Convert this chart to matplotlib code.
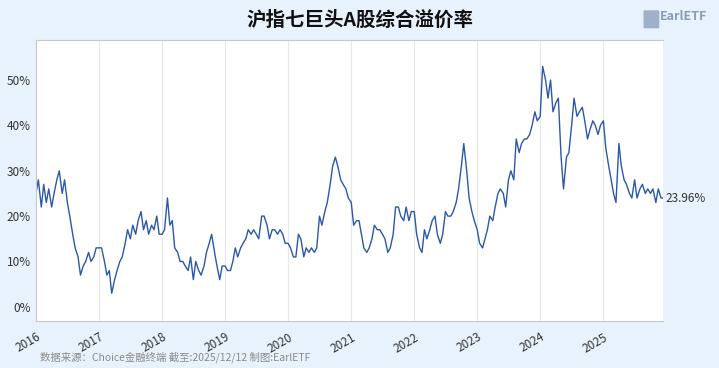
import pandas as pd
import matplotlib.pyplot as plt
import matplotlib.dates as mdates
from matplotlib.patches import FancyBboxPatch

plt.rcParams['font.family'] = ['Noto Sans CJK SC', 'DejaVu Sans']

# semi-monthly readings (%), one list per year
y2016 = [25, 28, 22, 27, 23, 26, 22, 25, 28, 30, 25, 28, 23, 20, 16, 13, 11, 7, 9, 10, 12, 10, 11, 13]
y2017 = [13, 13, 10, 7, 8, 3, 6, 8, 10, 11, 14, 17, 15, 18, 16, 19, 21, 17, 19, 16, 18, 17, 20, 16]
y2018 = [16, 17, 24, 18, 19, 13, 12, 10, 10, 9, 8, 11, 6, 10, 8, 7, 9, 12, 14, 16, 12, 9, 6, 9]
y2019 = [9, 8, 8, 10, 13, 11, 13, 14, 15, 17, 16, 17, 16, 15, 20, 20, 18, 15, 17, 17, 16, 17, 16, 14]
y2020 = [14, 13, 11, 11, 16, 15, 11, 13, 12, 13, 12, 13, 20, 18, 21, 23, 27, 31, 33, 31, 28, 27, 26, 24]
y2021 = [23, 18, 19, 19, 16, 13, 12, 13, 15, 18, 17, 17, 16, 15, 12, 13, 16, 22, 22, 20, 19, 22, 19, 21]
y2022 = [21, 16, 13, 12, 17, 15, 17, 19, 20, 16, 14, 16, 21, 20, 20, 21, 23, 26, 31, 36, 30, 24, 21, 19]
y2023 = [17, 14, 13, 15, 17, 20, 19, 22, 25, 26, 25, 22, 28, 30, 28, 37, 34, 36, 37, 37, 38, 40, 43, 41]
y2024 = [42, 53, 50, 46, 50, 43, 45, 46, 33, 26, 33, 34, 40, 46, 42, 43, 44, 41, 37, 39, 41, 40, 38, 40]
y2025 = [41, 35, 31, 28, 25, 23, 36, 31, 28, 27, 25, 24, 28, 24, 26, 27, 25, 26, 25, 26, 23, 26, 24]
last_date = '2025-12-12'
last_value = 23.96

values = y2016 + y2017 + y2018 + y2019 + y2020 + y2021 + y2022 + y2023 + y2024 + y2025
dates = list(pd.date_range('2016-01-01', periods=len(values), freq='SMS'))
dates.append(pd.Timestamp(last_date))
values.append(last_value)

bg = '#e8f2fc'
fig = plt.figure(figsize=(7.19, 3.68), dpi=100, facecolor=bg)
ax = fig.add_axes([0.050, 0.128, 0.872, 0.763])
ax.plot(dates, values, color='#2b58a8', linewidth=1.0)

ax.set_xlim(pd.Timestamp('2016-01-01'), pd.Timestamp(last_date))
ax.set_ylim(-3.1, 58.8)
ax.set_yticks([0, 10, 20, 30, 40, 50])
ax.set_yticklabels(['{}%'.format(v) for v in [0, 10, 20, 30, 40, 50]])
ax.xaxis.set_major_locator(mdates.YearLocator())
ax.xaxis.set_major_formatter(mdates.DateFormatter('%Y'))
ax.grid(axis='x', color='#e6e6e6', linewidth=0.8)
ax.tick_params(axis='both', length=0, labelsize=8.5, colors='#333333')
ax.tick_params(axis='x', pad=7)
plt.setp(ax.get_xticklabels(), rotation=30, ha='right', rotation_mode='anchor')
ax.spines['right'].set_visible(False)
for side in ['left', 'bottom', 'top']:
    ax.spines[side].set_color('#c8c8c8')

ax.annotate('{:.2f}%'.format(last_value), xy=(1.0, last_value), xycoords=('axes fraction', 'data'),
            xytext=(2, 0), textcoords='offset points', va='center', fontsize=8.5, color='#333333')

fig.text(0.5, 0.945, '沪指七巨头A股综合溢价率', ha='center', va='center', fontsize=14,
         fontweight='bold', color='#111111')

# logo
fig.patches.append(FancyBboxPatch((0.897, 0.925), 0.018, 0.045, boxstyle='round,pad=0.002',
                                  transform=fig.transFigure, facecolor='#9fb1c9', edgecolor='none'))
fig.text(0.918, 0.955, 'EarlETF', ha='left', va='center', fontsize=9, color='#8a9bb5',
         fontweight='bold')

fig.text(0.055, 0.03, '数据来源：Choice金融终端 截至:2025/12/12 制图:EarlETF', ha='left', va='center',
         fontsize=7.5, color='#8a8a8a')

plt.savefig('out.png', dpi=100, facecolor=bg)
